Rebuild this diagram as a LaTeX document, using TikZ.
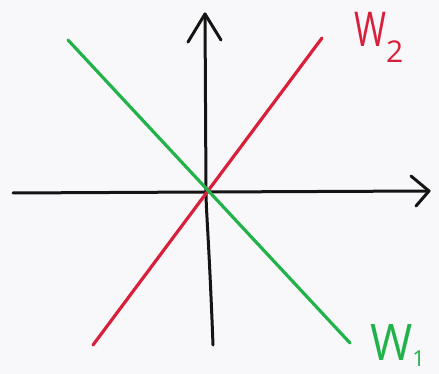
\documentclass[tikz,border=0pt]{standalone}
\usepackage{fontspec}
\setmainfont{Open Sans}
\usetikzlibrary{arrows.meta}
\definecolor{bg}{HTML}{F8F8FB}
\definecolor{penred}{HTML}{D8203A}
\definecolor{pengreen}{HTML}{22B24A}
\definecolor{penblack}{HTML}{141414}
\tikzset{
  axis/.style={draw=penblack, line width=3pt, line cap=round, line join=round},
  wline/.style={line width=3.2pt, line cap=round},
  lbl/.style={inner sep=0pt, font=\fontsize{48}{48}\selectfont},
}
\begin{document}
\begin{tikzpicture}[x=1pt,y=-1pt]
\fill[bg] (0,0) rectangle (439,374);
\useasboundingbox (0,0) rectangle (439,374);
% axes
\coordinate (xl) at (13,193);
\coordinate (o) at (206,192);
\coordinate (xr) at (429,191);
\coordinate (yb) at (213,345);
\coordinate (yt) at (205,14);
\draw[axis] (xl) -- (o) -- (xr);
\draw[axis] (yb) .. controls (209,240) and (206,210) .. (o) -- (yt);
% arrowheads (hand-drawn chevrons)
\coordinate (ua) at (188,42);
\coordinate (ub) at (221,40);
\coordinate (ra) at (411,176);
\coordinate (rb) at (416,206);
\draw[axis] (ua) -- (yt) -- (ub);
\draw[axis] (ra) -- (xr) -- (rb);
% lines
\coordinate (r1) at (93,345);
\coordinate (r2) at (322,38);
\coordinate (g1) at (68,40);
\coordinate (g2) at (350,343);
\draw[wline, draw=penred] (r1) -- (r2);
\draw[wline, draw=pengreen] (g1) -- (g2);
% labels
\node[lbl, text=penred, anchor=base west] (w2) at (354,47) {\scalebox{0.72}[1]{W}\raisebox{-16pt}{\fontsize{30}{30}\selectfont 2}};
\node[lbl, text=pengreen, anchor=base west] (w1) at (370,360) {\scalebox{0.95}[1.05]{W}\raisebox{-6pt}{\fontsize{22}{22}\selectfont 1}};
\end{tikzpicture}
\end{document}
